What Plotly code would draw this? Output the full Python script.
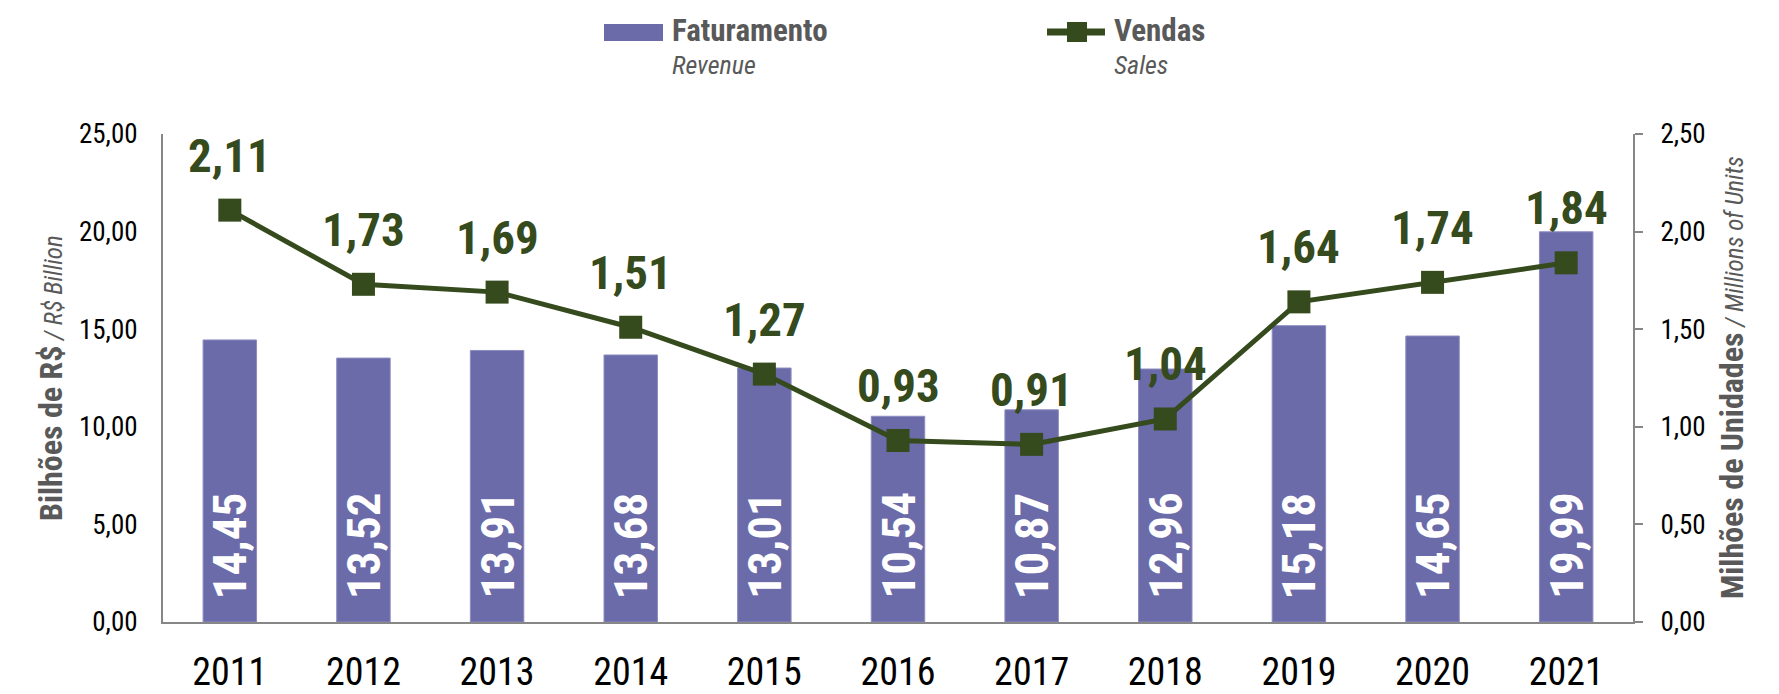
import plotly.graph_objects as go

anos = ['2011', '2012', '2013', '2014', '2015', '2016', '2017', '2018', '2019', '2020', '2021']
faturamento = [14.45, 13.52, 13.91, 13.68, 13.01, 10.54, 10.87, 12.96, 15.18, 14.65, 19.99]
vendas = [2.11, 1.73, 1.69, 1.51, 1.27, 0.93, 0.91, 1.04, 1.64, 1.74, 1.84]

FONTE = "Roboto Condensed, DejaVu Sans Condensed, sans-serif"
COR_BARRA = '#6B6BA9'
COR_LINHA = '#354A1D'
COR_EIXO = '#878787'
COR_TITULO = '#595959'

# area do grafico em pixels (para posicionar a legenda desenhada a mao)
L, R, T, B = 163, 1633, 134, 622


def px_x(p):
    return (p - L) / (R - L)


def px_y(p):
    return (B - p) / (B - T)


def fmt(v):
    return f"{v:.2f}".replace('.', ',')


fig = go.Figure()

fig.add_trace(go.Bar(
    x=anos, y=faturamento, name='Faturamento',
    marker=dict(color=COR_BARRA, line=dict(color='#8C8CC0', width=1)),
    width=0.4, showlegend=False, hoverinfo='skip'))

fig.add_trace(go.Scatter(
    x=anos, y=vendas, name='Vendas', yaxis='y2', mode='lines+markers',
    line=dict(color=COR_LINHA, width=5),
    marker=dict(symbol='square', size=23, color=COR_LINHA),
    showlegend=False, hoverinfo='skip'))

anotacoes = []
# no eixo de categorias a anotacao usa o indice da categoria
for i, v in enumerate(faturamento):
    anotacoes.append(dict(
        x=i, y=0, xref='x', yref='y', text='<b>' + fmt(v) + '</b>',
        textangle=-90, showarrow=False, yanchor='bottom', yshift=21,
        font=dict(family=FONTE, size=47, color='white')))

for i, v in enumerate(vendas):
    anotacoes.append(dict(
        x=i, y=v, xref='x', yref='y2', text='<b>' + fmt(v) + '</b>',
        showarrow=False, yanchor='middle', yshift=55,
        font=dict(family=FONTE, size=47, color=COR_LINHA)))

# titulos dos eixos
anotacoes.append(dict(
    x=0, y=0.5, xref='paper', yref='paper', xshift=-133, textangle=-90,
    showarrow=False,
    text="<b>Bilhões de R$</b><span style='font-size:25px'><i> / R$ Billion</i></span>",
    font=dict(family=FONTE, size=32, color=COR_TITULO)))
anotacoes.append(dict(
    x=1, y=0.5, xref='paper', yref='paper', xshift=120, textangle=-90,
    showarrow=False,
    text="<b>Milhões de Unidades</b><span style='font-size:25px'><i> / Millions of Units</i></span>",
    font=dict(family=FONTE, size=32, color=COR_TITULO)))

# legenda
anotacoes += [
    dict(x=px_x(670), y=px_y(30), xref='paper', yref='paper', xanchor='left',
         yanchor='middle', showarrow=False, text='<b>Faturamento</b>',
         font=dict(family=FONTE, size=31, color=COR_TITULO)),
    dict(x=px_x(670), y=px_y(65), xref='paper', yref='paper', xanchor='left',
         yanchor='middle', showarrow=False, text='<i>Revenue</i>',
         font=dict(family=FONTE, size=26, color=COR_TITULO)),
    dict(x=px_x(1112), y=px_y(30), xref='paper', yref='paper', xanchor='left',
         yanchor='middle', showarrow=False, text='<b>Vendas</b>',
         font=dict(family=FONTE, size=31, color=COR_TITULO)),
    dict(x=px_x(1112), y=px_y(65), xref='paper', yref='paper', xanchor='left',
         yanchor='middle', showarrow=False, text='<i>Sales</i>',
         font=dict(family=FONTE, size=26, color=COR_TITULO)),
]

formas = [
    dict(type='rect', xref='paper', yref='paper',
         x0=px_x(604), x1=px_x(663), y0=px_y(24), y1=px_y(41),
         fillcolor=COR_BARRA, line=dict(width=0)),
    dict(type='line', xref='paper', yref='paper',
         x0=px_x(1047), x1=px_x(1105), y0=px_y(32), y1=px_y(32),
         line=dict(color=COR_LINHA, width=7)),
    dict(type='rect', xref='paper', yref='paper',
         x0=px_x(1067), x1=px_x(1087), y0=px_y(22), y1=px_y(42),
         fillcolor=COR_LINHA, line=dict(width=0)),
]

fig.update_layout(
    width=1779, height=694,
    margin=dict(l=L, r=1779 - R, t=T, b=694 - B),
    plot_bgcolor='white', paper_bgcolor='white',
    separators=',.',
    font=dict(family=FONTE, color='black'),
    annotations=anotacoes,
    shapes=formas,
    bargap=0.6,
    xaxis=dict(type='category', range=[-0.5, len(anos) - 0.5], showline=True,
               linecolor=COR_EIXO, linewidth=2, automargin=False,
               ticks='', showgrid=False, tickfont=dict(size=38),
               ticklabelstandoff=15),
    yaxis=dict(range=[0, 25], dtick=5, tickformat='.2f', showline=True,
               linecolor=COR_EIXO, linewidth=2, showgrid=False, zeroline=False,
               automargin=False,
               ticks='', tickfont=dict(size=27), ticklabelstandoff=18),
    yaxis2=dict(range=[0, 2.5], dtick=0.5, tickformat='.2f', overlaying='y',
                side='right', showline=True, linecolor=COR_EIXO, linewidth=2,
                showgrid=False, zeroline=False, ticks='outside', ticklen=8,
                automargin=False,
                tickcolor=COR_EIXO, tickwidth=2, tickfont=dict(size=27),
                ticklabelstandoff=12),
)

# sem a margem padrao do body, o grafico fica no canto da janela
fig.write_html("out.html", config={'displayModeBar': False},
               post_script="document.body.style.margin='0';")
